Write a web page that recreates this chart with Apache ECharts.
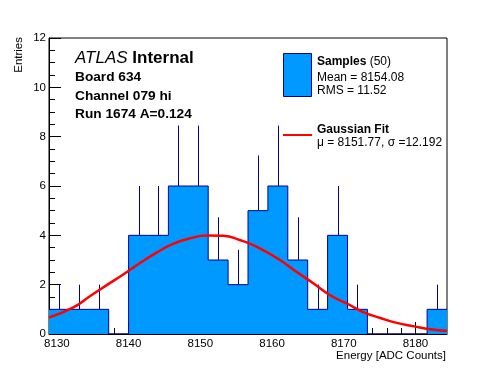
<!DOCTYPE html>
<html>
<head>
<meta charset="utf-8">
<script src="https://cdn.jsdelivr.net/npm/echarts@6/dist/echarts.min.js"></script>
<style>
html,body{margin:0;padding:0;background:#fff;}
#chart{width:496px;height:372px;}
</style>
</head>
<body>
<div id="chart"></div>
<script>
// ---- data ----
const histRange = [8128.9, 8184.4];
const counts = [1, 1, 1, 0, 4, 4, 6, 6, 3, 2, 5, 6, 3, 1, 4, 1, 0, 0, 0, 1];
const fitX = [8128.9, 8132.3, 8134.6, 8136.9, 8139.3, 8141.6, 8143.9, 8146.2, 8148.6, 8150.9, 8153.2, 8155.6, 8157.9, 8161.1, 8163.5, 8165.8, 8168.1, 8170.4, 8172.8, 8175.1, 8177.4, 8179.8, 8182.1, 8184.4];
const fitY = [0.67, 1.08, 1.53, 1.97, 2.42, 2.88, 3.30, 3.65, 3.88, 3.99, 3.98, 3.80, 3.53, 3.00, 2.50, 2.05, 1.57, 1.24, 0.88, 0.65, 0.45, 0.31, 0.19, 0.12];
const xMajorTicks = [8130, 8140, 8150, 8160, 8170, 8180];
const yTicks = [0, 2, 4, 6, 8, 10, 12];

// ---- derived ----
const nBins = counts.length;
const binW = (histRange[1] - histRange[0]) / nBins;
const stepData = counts.map((c, i) => [histRange[0] + i * binW, c]);
stepData.push([histRange[1], counts[nBins - 1]]);
const errData = counts.map((c, i) => [histRange[0] + (i + 0.5) * binW, c]);
const xMinorTicks = [];
for (let v = 8130; v <= histRange[1]; v += 2) xMinorTicks.push(v);
const fitData = fitX.map((x, i) => [x, fitY[i]]);

const FONT = '"Liberation Sans", Arial, Helvetica, sans-serif';
const EDGE = '#000099';
const FILL = '#0099ff';

const chart = echarts.init(document.getElementById('chart'), null, {renderer: 'canvas'});
chart.setOption({
  animation: false,
  backgroundColor: '#fff',
  grid: {left: 49, top: 38, width: 398, height: 296, show: true, borderColor: '#000', borderWidth: 1, backgroundColor: 'transparent'},
  xAxis: [{
    type: 'value', min: histRange[0], max: histRange[1],
    axisLine: {show: true, lineStyle: {color: '#000', width: 1}},
    axisTick: {show: true, inside: true, length: 12, lineStyle: {color: '#000'}, customValues: xMajorTicks},
    axisLabel: {show: true, customValues: xMajorTicks, formatter: v => String(Math.round(v)), color: '#000', fontFamily: FONT, fontSize: 11.5, margin: 4, showMinLabel: true, showMaxLabel: true},
    splitLine: {show: false}
  }, {
    type: 'value', min: histRange[0], max: histRange[1], position: 'bottom',
    axisLine: {show: false},
    axisTick: {show: true, inside: true, length: 6, lineStyle: {color: '#000'}, customValues: xMinorTicks},
    axisLabel: {show: false},
    splitLine: {show: false}
  }],
  yAxis: {
    type: 'value', min: 0, max: 12, interval: 2,
    axisLine: {show: true, lineStyle: {color: '#000'}},
    axisTick: {show: true, inside: true, length: 12, lineStyle: {color: '#000'}},
    minorTick: {show: true, splitNumber: 4, length: 6, lineStyle: {color: '#000'}},
    axisLabel: {color: '#000', fontFamily: FONT, fontSize: 11.5, margin: 3, formatter: v => String(v)},
    splitLine: {show: false}
  },
  series: [{
    type: 'line', step: 'end', data: stepData, symbol: 'none',
    lineStyle: {color: EDGE, width: 1},
    areaStyle: {color: FILL, opacity: 1},
    z: 2, silent: true
  }, {
    type: 'custom', data: errData, z: 3, silent: true,
    renderItem: function (params, api) {
      const x = api.value(0), c = api.value(1);
      if (c <= 0) return null;
      const p1 = api.coord([x, c]);
      const p2 = api.coord([x, c + Math.sqrt(c)]);
      const px = Math.round(p1[0]) + 0.5;
      return {type: 'line', shape: {x1: px, y1: p1[1], x2: px, y2: p2[1]}, style: {stroke: EDGE, lineWidth: 1}};
    }
  }, {
    type: 'line', data: fitData, smooth: true, symbol: 'none',
    lineStyle: {color: '#ff0000', width: 2.5}, z: 4, silent: true
  }],
  graphic: [
    {type: 'text', left: 13, top: 37, rotation: Math.PI / 2, style: {text: 'Entries', font: '11.5px ' + FONT, fill: '#000'}},
    {type: 'text', style: {text: 'Energy [ADC Counts]', x: 446, y: 355.5, font: '11.5px ' + FONT, fill: '#000', align: 'right', verticalAlign: 'middle'}},
    {type: 'text', style: {text: '{i|ATLAS} {b|Internal}', x: 75, y: 58, verticalAlign: 'middle', rich: {i: {fontStyle: 'italic', fontSize: 17, fontFamily: FONT, fill: '#000'}, b: {fontWeight: 'bold', fontSize: 17, fontFamily: FONT, fill: '#000'}}, font: '17px ' + FONT, fill: '#000'}},
    {type: 'text', style: {text: 'Board 634', x: 75, y: 77, font: 'bold 13.7px ' + FONT, fill: '#000', verticalAlign: 'middle'}},
    {type: 'text', style: {text: 'Channel 079 hi', x: 75, y: 96, font: 'bold 13.7px ' + FONT, fill: '#000', verticalAlign: 'middle'}},
    {type: 'text', style: {text: 'Run 1674 A=0.124', x: 75, y: 114.5, font: 'bold 13.7px ' + FONT, fill: '#000', verticalAlign: 'middle'}},
    {type: 'rect', shape: {x: 283.5, y: 53.5, width: 28, height: 43}, style: {fill: FILL, stroke: EDGE, lineWidth: 1}},
    {type: 'text', style: {text: '{b|Samples} {n|(50)}', x: 317, y: 62, verticalAlign: 'middle', rich: {b: {fontWeight: 'bold', fontSize: 12, fontFamily: FONT, fill: '#000'}, n: {fontSize: 12, fontFamily: FONT, fill: '#000'}}}},
    {type: 'text', style: {text: 'Mean = 8154.08', x: 317, y: 77.5, font: '12px ' + FONT, fill: '#000', verticalAlign: 'middle'}},
    {type: 'text', style: {text: 'RMS = 11.52', x: 317, y: 90.5, font: '12px ' + FONT, fill: '#000', verticalAlign: 'middle'}},
    {type: 'line', shape: {x1: 283, y1: 135, x2: 312, y2: 135}, style: {stroke: '#ff0000', lineWidth: 2}},
    {type: 'text', style: {text: 'Gaussian Fit', x: 317, y: 129.5, font: 'bold 12px ' + FONT, fill: '#000', verticalAlign: 'middle'}},
    {type: 'text', style: {text: 'μ = 8151.77, σ =12.192', x: 317, y: 142.5, font: '12px ' + FONT, fill: '#000', verticalAlign: 'middle'}}
  ]
});
</script>
</body>
</html>
